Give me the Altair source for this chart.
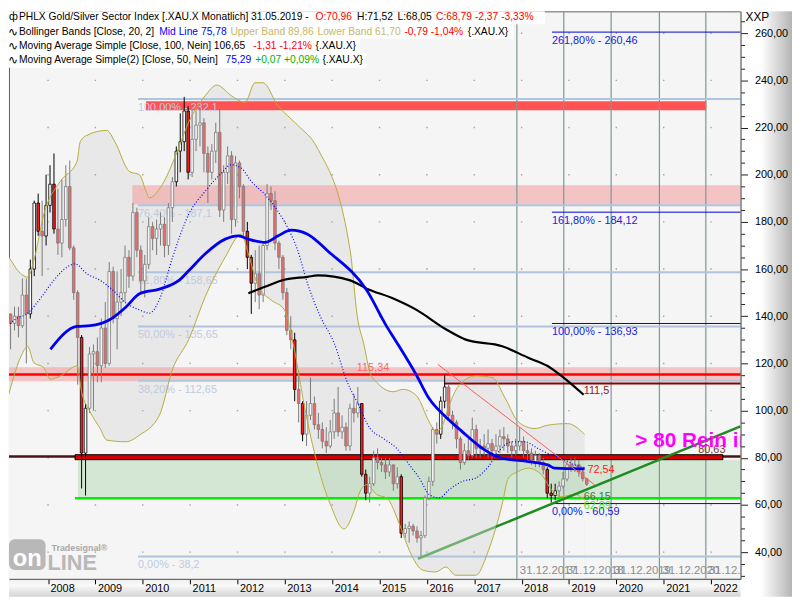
import altair as alt
import pandas as pd

W, H = 740, 574
FONT = "Liberation Sans"

# PHLX Gold/Silver Sector Index (.XAU.X), monthly candles Jan 2007 - May 2019
closes = [140, 141, 137, 140, 136, 149, 141, 160, 188, 176, 174, 187,
          196, 177, 171, 181, 195, 169, 150, 131, 82, 101, 124, 125,
          119, 135, 120, 159, 139, 146, 150, 165, 157, 184, 168, 155,
          162, 178, 173, 177, 179, 170, 186, 197, 210, 214, 227, 201,
          215, 221, 222, 209, 201, 210, 218, 185, 201, 208, 181, 205,
          195, 176, 165, 154, 158, 149, 170, 192, 189, 171, 165, 150,
          134, 130, 109, 103, 90, 98, 103, 94, 92, 87, 85, 91,
          99, 91, 93, 85, 101, 99, 103, 73, 65, 69, 80, 78,
          77, 74, 77, 69, 72, 48, 50, 51, 49, 46, 47, 63,
          70, 92, 90, 104, 110, 98, 95, 88, 78, 83, 81, 92,
          84, 85, 84, 86, 83, 85, 89, 88, 85, 83, 85, 87,
          83, 82, 78, 81, 78, 75, 65, 64, 66, 68, 71, 77,
          76, 77, 74, 71.16, 68.79]
highs = [147, 144, 141, 144, 144, 156, 156, 164, 189, 192, 189, 200,
         204, 209, 194, 198, 204, 206, 170, 151, 132, 103, 127, 128,
         131, 139, 146, 163, 161, 159, 160, 170, 168, 188, 186, 170,
         166, 182, 180, 181, 184, 182, 188, 199, 212, 226, 233, 229,
         228, 227, 228, 224, 212, 213, 222, 228, 204, 212, 210, 208,
         206, 196, 180, 166, 168, 170, 171, 196, 195, 193, 172, 166,
         152, 140, 133, 117, 104, 104, 114, 106, 99, 95, 93, 96,
         105, 110, 98, 95, 103, 107, 110, 103, 75, 72, 83, 84,
         80, 80, 80, 77, 76, 73, 52, 53, 52, 51, 49, 64,
         72, 93, 95, 106, 115.3, 111, 100, 96, 89, 86, 88, 97,
         94, 88, 90, 92, 88, 90, 92, 93, 90, 87, 88, 93,
         89, 86, 84, 83, 82, 80, 76, 69, 69, 70, 74, 78,
         80, 80, 79, 76, 71.52]
lows = [136, 134, 126, 134, 131, 135, 120, 139, 157, 174, 157, 170,
        184, 175, 166, 165, 178, 168, 147, 111, 67, 64, 99, 100,
        112, 112, 118, 119, 137, 126, 140, 146, 152, 155, 165, 150,
        148, 160, 168, 166, 170, 165, 166, 180, 195, 201, 210, 198,
        199, 210, 212, 201, 188, 198, 205, 182, 180, 196, 175, 178,
        190, 174, 160, 141, 146, 143, 146, 168, 185, 168, 160, 147,
        132, 126, 104, 95, 87, 85, 96, 92, 88, 84, 82, 84,
        88, 89, 88, 83, 83, 95, 97, 72, 62, 61, 68, 75,
        74, 71, 72, 66, 67, 46, 46, 44, 47, 44, 38.2, 46,
        62, 68, 86, 88, 101, 96, 92, 84, 75, 77, 79, 80,
        80, 80, 81, 80, 79, 81, 82, 83, 82, 80, 81, 83,
        80, 79, 77, 76, 76, 73, 63, 61, 62, 62.9, 67, 70,
        74, 74, 72, 70, 68.05]
first_open = 142
# candles drawn with black outline (outside the bands)
flagged = [7, 8, 9, 11, 12, 13, 20, 21, 44, 45, 46, 47, 62, 63, 74, 76,
           91, 92, 101, 111, 112, 138, 139, 140]

# Bollinger Bands (20, 2) and moving averages
bb_up_t = [2007.04, 2007.22, 2007.36, 2007.57, 2007.70, 2007.91, 2008.26, 2008.61, 2008.68, 2008.82,
           2009.24, 2009.41, 2009.72, 2009.93, 2010.07, 2010.14, 2010.41, 2010.70, 2010.97, 2011.32,
           2011.56, 2011.87, 2012.16, 2012.37, 2012.54, 2012.85, 2013.13, 2013.27, 2013.69, 2014.38,
           2014.53, 2014.67, 2014.80, 2014.94, 2015.29, 2015.50, 2015.78, 2016.05, 2016.19, 2016.33,
           2016.47, 2016.67, 2017.03, 2017.38, 2017.66, 2017.93, 2018.28, 2018.55, 2018.97, 2019.33]
bb_up_v = [169.2, 163.6, 159.4, 156.6, 163.6, 183.2, 197.2, 205.5, 214, 216.7,
           218.8, 214, 201.3, 200, 193, 190.2, 195.8, 208.4, 222.3, 233.5,
           238, 233.5, 230.7, 239, 239, 229.3, 223.7, 221, 211.2, 167.8,
           139.9, 128, 116, 112, 108, 109, 106.3, 95.2, 91, 93.8,
           102.2, 110.5, 114.7, 114, 105, 95.2, 92.4, 93.8, 94.5, 89.9]
bb_lo_t = [2007.04, 2007.22, 2007.43, 2007.57, 2007.70, 2007.91, 2008.05, 2008.26, 2008.61, 2008.71,
           2008.89, 2009.10, 2009.24, 2009.65, 2009.93, 2010.35, 2010.63, 2010.97, 2011.32, 2011.74,
           2012.08, 2012.23, 2012.44, 2012.71, 2012.99, 2013.20, 2013.41, 2013.69, 2013.96, 2014.25,
           2014.46, 2014.59, 2014.73, 2014.94, 2015.15, 2015.42, 2015.63, 2015.92, 2016.19, 2016.40,
           2016.61, 2017.03, 2017.30, 2017.59, 2017.72, 2017.93, 2018.14, 2018.42, 2018.63, 2018.84,
           2019.12, 2019.33]
bb_lo_v = [96.6, 110.5, 123.1, 127.3, 120.3, 118.2, 113.3, 114.7, 118.9, 107.8,
           99.4, 92.4, 87.5, 86.8, 89.6, 98, 117.6, 130.1, 148.3, 165,
           174.8, 166.5, 152.5, 146.9, 142.7, 126, 102.2, 77, 60.3, 49.8,
           57.5, 65.8, 68.6, 64.4, 63, 51.9, 40.7, 32.3, 31.6, 33.7,
           30.2, 30.2, 40.7, 60.3, 71.4, 74.2, 75.6, 72.8, 66.5, 63.5,
           64.5, 62]
bb_mid_t = [2007.04, 2007.29, 2007.57, 2007.84, 2008.12, 2008.40, 2008.57, 2008.82, 2009.10, 2009.37,
            2009.65, 2009.93, 2010.14, 2010.35, 2010.63, 2010.97, 2011.32, 2011.66, 2011.87, 2012.08,
            2012.29, 2012.58, 2012.85, 2013.06, 2013.27, 2013.48, 2013.75, 2014.04, 2014.32, 2014.53,
            2014.80, 2015.08, 2015.36, 2015.63, 2015.84, 2016.05, 2016.26, 2016.47, 2016.75, 2017.03,
            2017.30, 2017.51, 2017.80, 2018.07, 2018.34, 2018.55, 2018.84, 2019.12, 2019.33]
bb_mid_v = [132.9, 138.5, 141.3, 147.6, 155.2, 160.8, 162.2, 158, 155.2, 151,
            145.5, 142.7, 141.3, 147, 165, 183.2, 193, 200.7, 204.2, 202.8,
            197.2, 191.6, 184.6, 177.6, 168, 153.8, 139.9, 128.7, 112, 103.5,
            92.4, 88.2, 84, 77, 71.4, 64.4, 63, 66.5, 70, 71.4,
            76.3, 82.6, 86.8, 86.8, 84, 81.9, 79.8, 77, 75.8]
ma50_t = [2008.05, 2008.61, 2008.89, 2009.30, 2009.65, 2009.93, 2010.35, 2010.77, 2010.98, 2011.32,
          2011.74, 2012.02, 2012.23, 2012.58, 2012.86, 2013.13, 2013.48, 2013.90, 2014.73, 2015.15,
          2015.36, 2015.78, 2016.05, 2016.40, 2016.75, 2017.17, 2017.59, 2018.14, 2018.55, 2018.70,
          2019.33]
ma50_v = [126, 135.7, 136, 138.5, 144, 149.5, 151.5, 155.3, 159.5, 166.5,
          172.7, 174.1, 172.7, 171.3, 174.1, 176.5, 174.8, 167.8, 151, 135.7,
          129, 115, 105, 97.3, 91, 84, 79.8, 78.4, 77, 75.6,
          75.3]
ma100_t = [2012.23, 2012.58, 2012.99, 2013.48, 2013.69, 2014.38, 2014.73, 2015.29, 2015.78, 2016.40,
           2016.82, 2017.59, 2018.14, 2018.55, 2018.84, 2019.31]
ma100_v = [149.7, 152.5, 155.5, 156.7, 157.3, 155.2, 151.7, 147.5, 142.7, 134.5,
           130.1, 127.3, 122.4, 118.9, 114.7, 106.7]

# Fibonacci retracement and extension levels
fib_levels = [232.1, 187.1, 158.65, 135.65, 112.65, 38.2]
fib_text = ["100,00% - 232,1", "76,40% - 187,1", "61,80% - 158,65",
            "50,00% - 135,65", "38,20% - 112,65", "0,00% - 38,2"]
fib_start = 2009.90
ext_levels = [260.46, 184.12, 136.93, 60.59]
ext_text = ["261,80% - 260,46", "161,80% - 184,12", "100,00% - 136,93", "0,00% - 60,59"]
ext_start = 2018.64

# support / resistance zones: from, to, low, high
zone_t0 = [2010.07, 2009.78, 2006.0, 2008.63]
zone_t1 = [2021.90, 2023.0, 2023.0, 2023.0]
zone_v0 = [227.3, 187.4, 112.4, 62.9]
zone_v1 = [231.1, 195.5, 118.4, 79.2]
zone_col = ["#ff5252", "#f29a9a", "#f29a9a", "#9fcf9f"]
zone_op = [1.0, 0.55, 0.55, 0.38]

# single horizontal lines
line_v = [115.34, 111.5, 80.5, 62.89]
line_t0 = [2006.0, 2016.36, 2006.0, 2008.57]
line_col = ["#ff0000", "#8b0000", "#4a1212", "#00ee00"]
line_w = [2.5, 2, 2.5, 2.5]

box80 = {"t0": 2008.57, "t1": 2022.25, "v0": 79.2, "v1": 81.3}

# year-end markers
vline_t = [2017.90, 2018.89, 2019.89, 2020.91, 2021.89]
vline_text = ["31.12.2017", "31.12.2018", "31.12.2019", "31.12.2020", "31.12.2021"]

# trend lines
trend_seg = ["up1", "up1", "up2", "up2", "down", "down"]
trend_t = [2015.81, 2017.45, 2017.45, 2022.62, 2016.23, 2019.54]
trend_v = [37.2, 50.7, 50.7, 93.3, 119.6, 68.6]

# value labels
note_text = ["115,34", "111,5", "80,63", "72,54", "66,15", "62,89"]
note_t = [2014.52, 2019.31, 2021.73, 2019.39, 2019.31, 2019.31]
note_v = [116.7, 107.0, 81.9, 73.5, 62.3, 58.4]
note_col = ["#ff6666", "#8b1a1a", "#7a3a2a", "#ff2020", "#3a7a3a", "#55dd33"]

# axis ticks
year_ticks = list(range(2008, 2023))
price_ticks = list(range(40, 261, 20))

# ---------------------------------------------------------------- tables
n = len(closes)
opens = [first_open] + closes[:-1]
candles = pd.DataFrame({"t": [2007 + (i + 0.5) / 12 for i in range(n)],
                        "o": opens, "h": highs, "l": lows, "c": closes})
candles["up"] = candles.c >= candles.o
candles["flag"] = candles.index.isin(flagged)
candles["fill"] = [("#ffffff" if u else "#ff1a1a") if f else ("#f7f7f7" if u else "#ea6b6b")
                   for u, f in zip(candles.up, candles.flag)]
candles["edge"] = ["#000000" if f else "#7a7a7a" for f in candles.flag]

bb_up = pd.DataFrame({"t": bb_up_t, "v": bb_up_v})
bb_lo = pd.DataFrame({"t": bb_lo_t, "v": bb_lo_v})
bb_mid = pd.DataFrame({"t": bb_mid_t, "v": bb_mid_v})
ma50 = pd.DataFrame({"t": ma50_t, "v": ma50_v})
ma100 = pd.DataFrame({"t": ma100_t, "v": ma100_v})

zones = pd.DataFrame({"t0": zone_t0, "t1": zone_t1, "v0": zone_v0, "v1": zone_v1,
                      "col": zone_col, "op": zone_op})
hl = pd.DataFrame({
    "v": fib_levels + ext_levels + line_v,
    "t0": [fib_start] * len(fib_levels) + [ext_start] * len(ext_levels) + line_t0,
    "col": ["#b0c4de"] * len(fib_levels) + ["#0000cc"] * len(ext_levels) + line_col,
    "w": [2] * len(fib_levels) + [1] * len(ext_levels) + line_w,
})
hl["t1"] = 2023.0
fiblab = pd.DataFrame({"v": fib_levels + ext_levels, "text": fib_text + ext_text,
                       "t": [fib_start] * len(fib_levels) + [ext_start] * len(ext_levels),
                       "col": ["#bfcbe0"] * len(fib_levels) + ["#2020dd"] * len(ext_levels)})
vl = pd.DataFrame({"t": vline_t, "text": vline_text, "v": 30.8})
trend = pd.DataFrame({"seg": trend_seg, "t": trend_t, "v": trend_v})
trend["col"] = trend.seg.map({"up1": "#72b072", "up2": "#1f8a1f", "down": "#ff5a5a"})
trend["w"] = trend.seg.map({"up1": 2.5, "up2": 2.5, "down": 1})
notes = pd.DataFrame({"text": note_text, "t": note_t, "v": note_v, "col": note_col})
dots = pd.DataFrame([(t, v) for t in year_ticks for v in price_ticks], columns=["t", "v"])
one = pd.DataFrame({"k": [0]})

# ---------------------------------------------------------------- scales / axes
xs = alt.Scale(domain=[2007.175, 2022.624], nice=False, zero=False, padding=0)
ys = alt.Scale(domain=[28.68, 269.25], nice=False, zero=False, padding=0)
xax = alt.Axis(values=year_ticks, format="d", labelAlign="left", labelOffset=2,
               labelFlush=False, labelOverlap=False, labelBound=False, labelBaseline="top",
               labelPadding=-1, tickSize=5, tickColor="#000000", domainColor="#505050",
               labelColor="#000000", labelFontSize=11, labelFont=FONT, grid=False, zindex=1)
yax = alt.Axis(orient="right", values=list(range(30, 270, 5)),
               labelExpr="datum.value % 20 === 0 ? replace(format(datum.value, '.2f'), '.', ',') : ''",
               tickSize={"condition": {"test": "datum.value % 20 === 0", "value": 7}, "value": 4},
               tickColor="#202020", domainColor="#505050", labelColor="#000000",
               labelFontSize=11, labelFont=FONT, labelPadding=7, grid=False, zindex=1)


def X(f):
    return alt.X(f, scale=xs, axis=xax, title=None)


def Y(f):
    return alt.Y(f, scale=ys, axis=yax, title=None)


def label(txt, px, py, color, size=11, weight="normal", align="left", baseline="middle"):
    return alt.Chart(one).mark_text(text=txt, align=align, baseline=baseline, color=color,
                                    fontSize=size, fontWeight=weight, font=FONT).encode(
        x=alt.value(px), y=alt.value(py))


def box(x0, x1, y0, y1, color, **kw):
    return alt.Chart(one).mark_rect(color=color, **kw).encode(
        x=alt.value(x0), x2=alt.value(x1), y=alt.value(y0), y2=alt.value(y1))


# ---------------------------------------------------------------- layers
right_strip = box(W, W + 52, 0, H + 18, alt.Gradient(
    gradient="linear", x1=0, x2=1, y1=0, y2=0,
    stops=[alt.GradientStop(color="#ffffff", offset=0), alt.GradientStop(color="#ffffff", offset=0.4),
           alt.GradientStop(color="#b4b4b4", offset=1)]))
bottom_strip = box(0, W, H, H + 18, alt.Gradient(
    gradient="linear", x1=0, x2=0, y1=0, y2=1,
    stops=[alt.GradientStop(color="#ececec", offset=0), alt.GradientStop(color="#fafafa", offset=0.35),
           alt.GradientStop(color="#d4d4d4", offset=1)]))

bb_fill = alt.Chart(bb_up).mark_area(color="#e8e8e8", clip=True, interpolate="monotone").encode(
    x=X("t:Q"), y=Y("v:Q"), y2=alt.value(H))
bb_hole = alt.Chart(bb_lo).mark_area(color="#f5f5f5", clip=True, interpolate="monotone").encode(
    x=X("t:Q"), y=Y("v:Q"), y2=alt.value(H))
dot_layer = alt.Chart(dots).mark_square(size=2, color="#9a9a9a", opacity=0.9, clip=True).encode(
    x=X("t:Q"), y=Y("v:Q"))

zone_layer = alt.Chart(zones).mark_rect(clip=True).encode(
    x=X("t0:Q"), x2="t1:Q", y=Y("v0:Q"), y2="v1:Q",
    color=alt.Color("col:N", scale=None), opacity=alt.Opacity("op:Q", scale=None))

vline_layer = alt.Chart(vl).mark_rule(color="#7d9696", strokeWidth=1.2, clip=True).encode(x=X("t:Q"))
vline_text_layer = alt.Chart(vl).mark_text(align="left", baseline="alphabetic", dx=3, color="#8c8c8c",
                                           fontSize=11.5, font=FONT, clip=True).encode(
    x=X("t:Q"), y=Y("v:Q"), text="text:N")

hline_layer = alt.Chart(hl).mark_rule(clip=True).encode(
    x=X("t0:Q"), x2="t1:Q", y=Y("v:Q"),
    color=alt.Color("col:N", scale=None), size=alt.Size("w:Q", scale=None))

fib_text_layer = alt.Chart(fiblab).mark_text(align="left", baseline="top", dy=3, fontSize=11,
                                             font=FONT, clip=True).encode(
    x=X("t:Q"), y=Y("v:Q"), text="text:N", color=alt.Color("col:N", scale=None))

box80_layer = alt.Chart(pd.DataFrame([box80])).mark_rect(color="#d40000", stroke="#000000",
                                                         strokeWidth=1, clip=True).encode(
    x=X("t0:Q"), x2="t1:Q", y=Y("v0:Q"), y2="v1:Q")

wicks = alt.Chart(candles).mark_rule(strokeWidth=1, clip=True).encode(
    x=X("t:Q"), y=Y("l:Q"), y2="h:Q", color=alt.Color("edge:N", scale=None))
bodies = alt.Chart(candles).mark_bar(size=2.6, strokeWidth=0.8, clip=True).encode(
    x=X("t:Q"), y=Y("o:Q"), y2="c:Q",
    fill=alt.Fill("fill:N", scale=None), stroke=alt.Stroke("edge:N", scale=None))

band_up = alt.Chart(bb_up).mark_line(color="#b4ac3c", strokeWidth=1, clip=True,
                                     interpolate="monotone").encode(x=X("t:Q"), y=Y("v:Q"))
band_lo = alt.Chart(bb_lo).mark_line(color="#b4ac3c", strokeWidth=1, clip=True,
                                     interpolate="monotone").encode(x=X("t:Q"), y=Y("v:Q"))
band_mid = alt.Chart(bb_mid).mark_line(color="#0000ff", strokeWidth=1.2, strokeDash=[1, 2], clip=True,
                                       interpolate="monotone").encode(x=X("t:Q"), y=Y("v:Q"))
ma100_line = alt.Chart(ma100).mark_line(color="#000000", strokeWidth=2.2, clip=True,
                                        interpolate="monotone").encode(x=X("t:Q"), y=Y("v:Q"))
ma50_line = alt.Chart(ma50).mark_line(color="#0000ee", strokeWidth=2.8, clip=True,
                                      interpolate="monotone").encode(x=X("t:Q"), y=Y("v:Q"))

trend_layer = alt.Chart(trend).mark_line(clip=True).encode(
    x=X("t:Q"), y=Y("v:Q"), detail="seg:N",
    color=alt.Color("col:N", scale=None), size=alt.Size("w:Q", scale=None))

note_layer = alt.Chart(notes).mark_text(align="left", baseline="alphabetic", fontSize=11,
                                        font=FONT, clip=True).encode(
    x=X("t:Q"), y=Y("v:Q"), text="text:N", color=alt.Color("col:N", scale=None))
rein = alt.Chart(pd.DataFrame({"t": [2020.40], "v": [84.4], "text": ["> 80 Rein in"]})).mark_text(
    align="left", baseline="alphabetic", fontSize=21, fontWeight="bold", color="#ff00ff",
    font=FONT, clip=True).encode(x=X("t:Q"), y=Y("v:Q"), text="text:N")

# header (indicator legend)
HS = 10.4
header_rows = [6, 20.5, 35, 49.5]
header_bg = [box(0, 542, 0, 13, "#ffffff"), box(0, 510, 13, 28, "#ffffff"),
             box(0, 355, 28, 42, "#ffffff"), box(0, 361, 42, 57, "#ffffff")]
segments = [
    (0, 10, "PHLX Gold/Silver Sector Index [.XAU.X  Monatlich] 31.05.2019 -", "#000000"),
    (0, 310, "O:70,96", "#ff0000"),
    (0, 352, "H:71,52", "#000000"),
    (0, 393, "L:68,05", "#000000"),
    (0, 432, "C:68,79 -2,37 -3,33%", "#ff0000"),
    (1, 10, "Bollinger Bands [Close, 20, 2]", "#000000"),
    (1, 152, "Mid Line 75,78", "#0000ff"),
    (1, 224, "Upper Band 89,86", "#c4b86a"),
    (1, 312, "Lower Band 61,70", "#c4b86a"),
    (1, 400, "-0,79 -1,04%", "#ff0000"),
    (1, 464, "{.XAU.X}", "#000000"),
    (2, 10, "Moving Average Simple [Close, 100, Nein] 106,65", "#000000"),
    (2, 247, "-1,31 -1,21%", "#ff0000"),
    (2, 310, "{.XAU.X}", "#000000"),
    (3, 10, "Moving Average Simple(2) [Close, 50, Nein]", "#000000"),
    (3, 219, "75,29", "#0000ff"),
    (3, 249, "+0,07 +0,09%", "#00b000"),
    (3, 317, "{.XAU.X}", "#000000"),
]
header = [label(txt, px, header_rows[row], col, size=HS) for row, px, txt, col in segments]
icons = [label("ф", 0, header_rows[0], "#000000", size=11)] + \
        [label("∿", -1, header_rows[r], "#000000", size=12) for r in (1, 2, 3)]

logo = [
    box(0, 37, 534, 565, "#b8b8b8", cornerRadius=6),
    label("on", 18.5, 561, "#ffffff", size=24, weight="bold", align="center", baseline="alphabetic"),
    label("LINE", 39, 565, "#b8b8b8", size=22, weight="bold", baseline="alphabetic"),
    label("Tradesignal®", 43, 546, "#a8a8a8", size=9, weight="bold", baseline="alphabetic"),
]
xxp = label("XXP", W + 5, 6, "#000000", size=12)

chart = alt.layer(
    right_strip, bottom_strip,
    bb_fill, bb_hole, dot_layer,
    zone_layer, vline_layer, hline_layer, box80_layer, fib_text_layer,
    *logo,
    wicks, bodies,
    band_up, band_lo, band_mid, ma100_line, ma50_line,
    trend_layer, note_layer, rein, vline_text_layer,
    *header_bg, *header, *icons, xxp,
).properties(width=W, height=H, padding=0, background="#ffffff")

chart = chart.configure_view(fill="#f5f5f5", stroke="#606060", strokeWidth=1)

chart.save("out.html", embed_options={"renderer": "svg", "actions": False})
